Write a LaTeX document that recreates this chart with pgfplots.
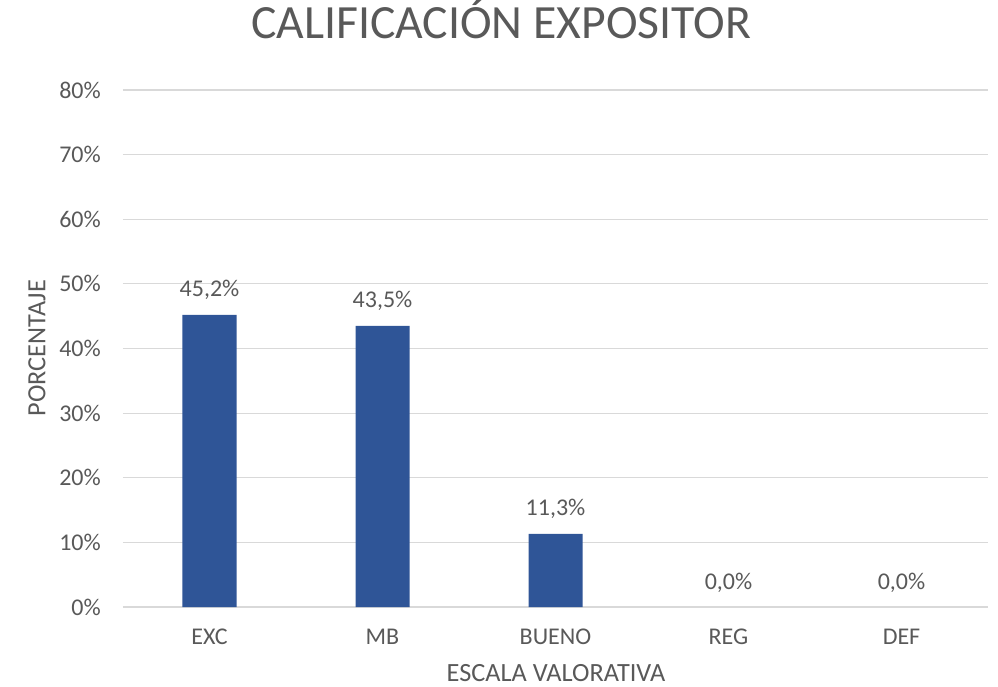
\documentclass[border=0pt]{standalone}
\usepackage{pgfplots}
\pgfplotsset{compat=1.18}
\usepackage{fontspec}
\setmainfont{Carlito}
\definecolor{barblue}{HTML}{2F5597}
\definecolor{txtgray}{HTML}{595959}
\definecolor{gridgray}{HTML}{D9D9D9}
\begin{document}
\begin{tikzpicture}
\useasboundingbox (-123bp,-80bp) rectangle (875bp,607bp);
\begin{axis}[
  at={(0,0)}, anchor=south west,
  scale only axis,
  width=865bp, height=517bp,
  xmin=-0.5, xmax=4.5,
  ymin=0, ymax=80,
  ytick={0,10,...,80},
  xtick={0,1,2,3,4},
  xticklabels={EXC,MB,BUENO,REG,DEF},
  /pgf/number format/assume math mode=true,
  yticklabel={\pgfmathprintnumber{\tick}\%},
  axis line style={draw=none},
  major tick length=0pt,
  ymajorgrids,
  grid style={gridgray, line width=1.2bp},
  tick label style={font=\fontsize{24bp}{28bp}\selectfont, text=txtgray},
  y tick label style={anchor=east, inner sep=0pt, xshift=-22bp},
  x tick label style={anchor=north, inner sep=0pt, yshift=-22bp},
  title={CALIFICACIÓN EXPOSITOR},
  title style={at={(axis description cs:0.437,1.089)}, anchor=base, inner sep=0pt,
    font=\fontsize{47.7bp}{56bp}\selectfont, text=txtgray},
  xlabel={ESCALA VALORATIVA},
  xlabel style={at={(axis description cs:0.5006,-0.1450)}, anchor=base, inner sep=0pt,
    font=\fontsize{26.3bp}{30bp}\selectfont, text=txtgray},
  ylabel={PORCENTAJE},
  ylabel style={at={(axis description cs:-0.0994,0.501)}, anchor=center, rotate=0, inner sep=0pt,
    font=\fontsize{26.3bp}{30bp}\selectfont, text=txtgray},
  ybar, bar width=54bp, bar shift=0pt,
  nodes near coords={\pgfmathprintnumber[fixed,fixed zerofill,precision=1,use comma]{\pgfplotspointmeta}\%},
  nodes near coords style={anchor=base, inner sep=0pt, yshift=18bp, font=\fontsize{24bp}{28bp}\selectfont, text=txtgray},
]
\addplot[fill=barblue, draw=none] coordinates {(0,45.2) (1,43.5) (2,11.3)};
\addplot[fill=none, draw=none] coordinates {(3,0) (4,0)};
\end{axis}
\end{tikzpicture}
\end{document}
